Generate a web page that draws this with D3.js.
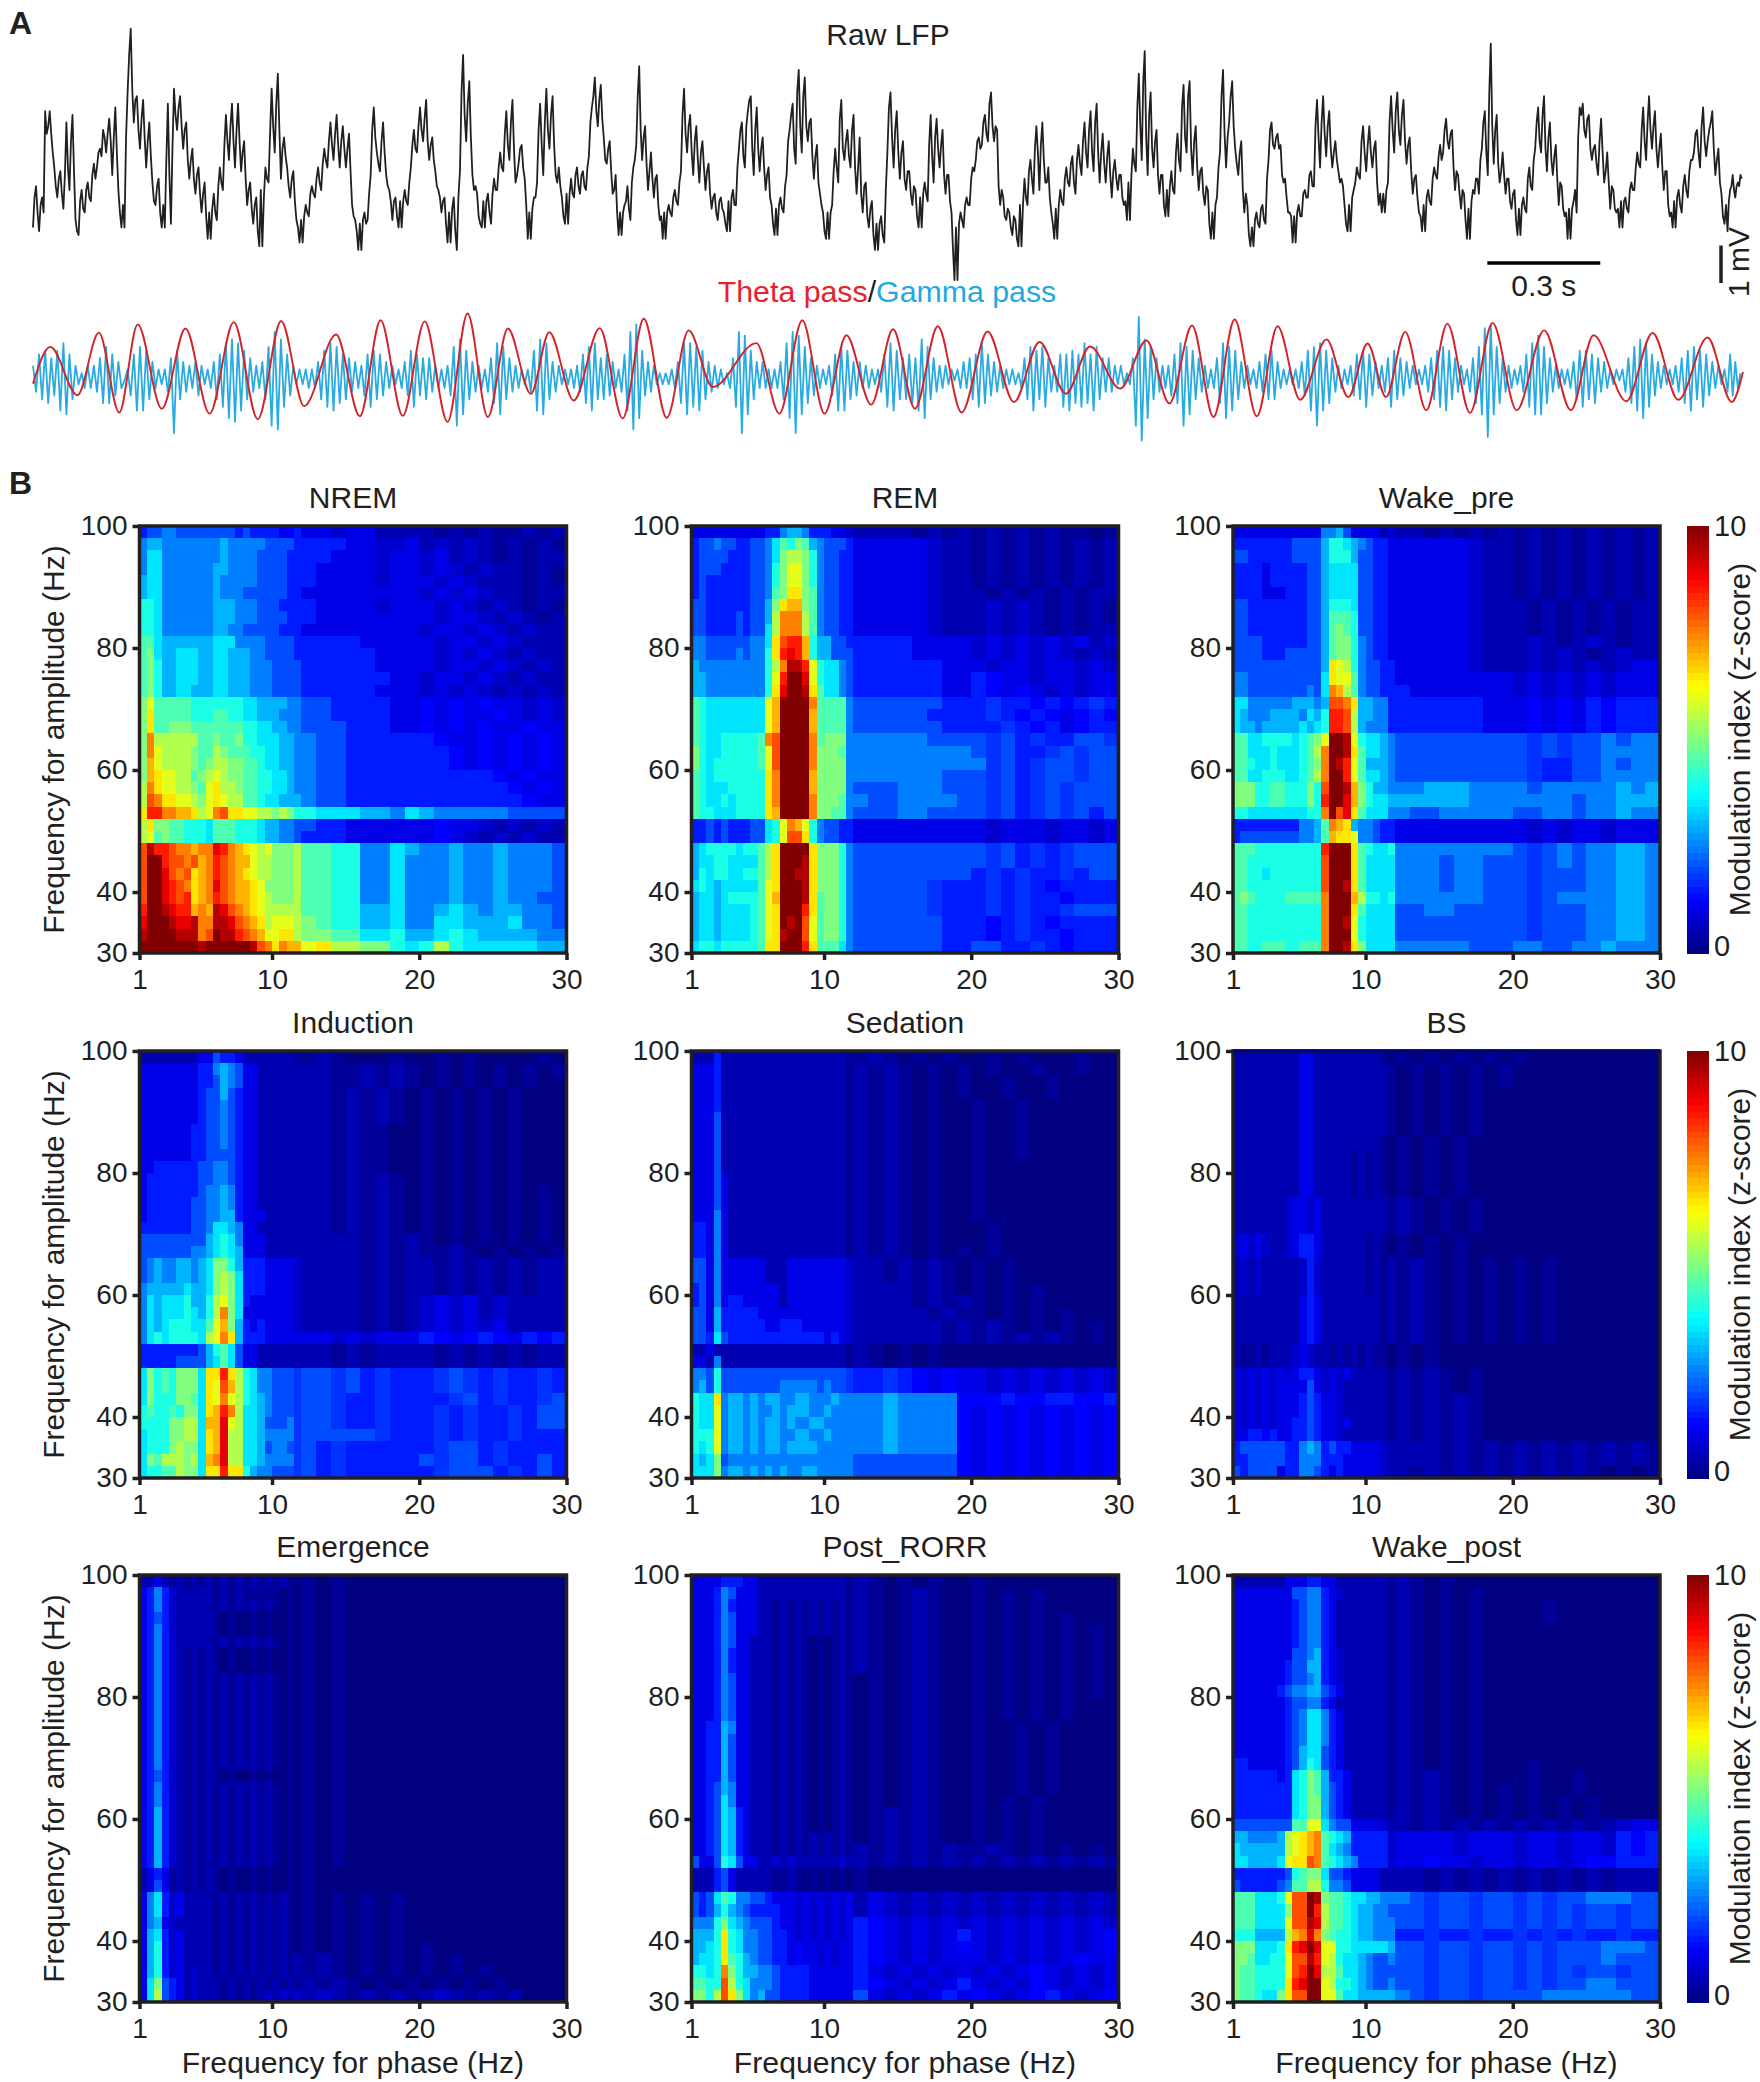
<!DOCTYPE html>
<html>
<head>
<meta charset="utf-8">
<script src="https://cdn.jsdelivr.net/npm/d3@7"></script>
<style>
  body { margin: 0; background: #fff; }
  text { font-family: "Liberation Sans", Arial, sans-serif; fill: #231f20; }
</style>
</head>
<body>
<div class="chart"></div>
<script>
// panel A: traces are split per theta cycle, start times in s
const segmentStart = [0,.121,.243,.350,.472,.609,.716,.872,.979,1.109,1.200,1.322,1.421,1.563,1.680,1.851,1.977,2.114,2.244,2.360,2.455,2.625,2.720,2.913,3.015,3.136,3.241,3.353,3.499,3.590,3.697,3.816,3.950,4.083,4.221,4.362,4.500,4.541];

// raw LFP, 0.1 mV
const lfp = [
  [-18,-7,-19,-10,13,9,7,-2,-10,-3,-13,10,-8,12,-16],
  [-20,-8,-14,-6,-11,-1,-2,3,8,2,11,-4,14,-8,-18],
  [-18,18,35,10,17,3,16,-2,10,-6,-12,-5,-18],
  [-18,15,-17,19,8,17,3,10,-5,3,-9,-2,-14,-6,-21],
  [-21,-9,-16,-2,-8,12,0,15,-2,15,-3,5,-12,-6,-17,-10,-23],
  [-23,-2,-6,19,2,23,-5,6,-2,-10,-3,-16,-22],
  [-22,-12,-15,-7,-10,-2,-8,3,-2,10,0,12,-2,9,-2,7,-12,-16,-24],
  [-24,-14,-16,-4,14,2,-3,10,-4,-8,-16,-10,-18],
  [-18,-8,-12,-2,8,2,14,5,16,0,6,-3,-8,-14,-10,-22],
  [-22,-10,-24,-3,28,5,21,-4,-7,-15,-18],
  [-18,-9,-17,-5,-8,2,-3,13,0,16,-6,-1,4,-5,-21],
  [-21,-10,-6,15,-4,19,3,17,-4,-2,-10,-17],
  [-17,-5,-10,-2,-9,-3,-8,1,14,22,9,20,6,-1,5,-9,-4,-20],
  [-20,-12,-7,-16,-2,4,25,0,9,-8,2,-10,-4,-16,-21],
  [-21,-12,-15,-8,-12,-3,19,2,12,-4,9,-6,5,-8,-1,-13,-9,-16,-10,-14,-19],
  [-19,-8,-12,3,10,-2,13,17,-4,14,-3,6,-8,-2,-12,-20],
  [-20,-10,-14,-4,8,15,-1,24,2,22,5,11,-5,4,-9,-14,-21],
  [-21,-12,3,-6,16,0,8,-2,12,-9,6,-14,-6,-18,-11,-24],
  [-24,-15,-22,2,18,-2,13,-5,5,-8,-3,-12,-8,-18],
  [-18,-6,-11,12,-6,11,-2,8,-9,-4,-14,-32],
  [-32,-14,-18,-10,-12,-2,0,6,4,12,5,18,5,8,-12,-10,-16,-14,-20,-16,-23],
  [-23,-5,-12,0,-9,9,-8,10,-6,-2,-14,-21],
  [-21,-8,-12,-2,-7,1,-9,4,-4,10,-2,13,-3,15,-6,7,-6,5,-10,0,-8,-4,-12,-16],
  [-16,3,-3,23,0,29,-4,18,-2,8,-9,-4,-15],
  [-15,-3,-9,7,-3,20,2,21,-4,9,-8,-2,-12,-8,-21],
  [-21,-10,2,24,-2,10,21,3,-4,5,-14,-12,-23],
  [-23,-14,-18,-12,-17,0,10,3,7,4,-6,-10,-14,-22],
  [-22,-12,-15,-8,-10,-3,-7,16,-2,17,1,13,-2,5,-3,-5,-12,-19],
  [-19,-8,-2,-5,9,-3,9,-2,5,-12,-14],
  [-14,-6,17,2,18,4,16,-1,6,-9,-4,-14,-19],
  [-19,-8,-12,-2,-5,4,2,11,3,8,-8,-4,-13,-9,-21],
  [-21,-8,-5,-9,3,13,-4,31,-1,12,-6,2,-9,-5,-13,-8,-20],
  [-20,-10,-14,-2,-8,3,14,2,17,-3,10,-4,4,-12,-7,-15,-21],
  [-21,-11,-14,14,15,6,12,0,4,-4,11,-6,2,-13,-8,-14,-18],
  [-18,-10,-14,-6,-8,2,-2,14,0,17,3,13,-2,7,-8,-3,-15,-18],
  [-18,-8,-14,-4,-10,0,2,8,-2,14,1,8,13,-4,3,-9,-17],
  [-19,-8,-4,-10,-6,-4]
];

// raw LFP, the samples that fall between those above
const lfpBetween = [
  [-10,-14,-12,-14,7,13,2,-7,-5,-9,-4,-2,5,-3,-19],
  [-11,-13,-8,-10,-4,-5,2,1,6,7,5,6,2,-14,-12],
  [6,28,19,16,8,11,6,5,1,-11,-7,-14,-12],
  [0,-4,3,12,14,9,8,0,0,-5,-4,-9,-9,-15,-14],
  [-13,-14,-7,-6,4,5,9,5,8,5,2,-5,-8,-13,-12,-19,-8],
  [-10,-5,7,9,15,8,3,1,-7,-5,-11,-18,-16],
  [-15,-14,-9,-9,-5,-6,-1,0,5,4,7,4,5,3,3,-3,-15,-19,-17],
  [-16,-17,-9,8,6,-1,5,2,-7,-11,-11,-15,-11],
  [-11,-11,-6,4,3,9,8,11,5,4,0,-7,-10,-11,-17,-14],
  [-13,-19,-10,18,12,15,6,-8,-9,-17,-11],
  [-11,-14,-9,-8,-2,-2,7,4,10,3,-4,3,-2,-12,-14],
  [-13,-10,8,4,10,8,12,4,-6,-7,-15,-9],
  [-9,-9,-4,-7,-4,-7,-2,10,17,13,16,11,0,3,-3,-8,-14,-14],
  [-14,-11,-13,-6,0,17,8,6,-1,-3,-5,-5,-12,-15,-14],
  [-14,-14,-10,-11,-6,12,7,9,2,5,0,2,-2,-3,-9,-10,-14,-11,-13,-17,-11],
  [-10,-12,-2,8,1,9,16,3,8,3,3,-2,-4,-10,-17,-13],
  [-12,-13,-7,5,12,3,18,9,17,9,10,1,1,-6,-12,-19,-14],
  [-14,-3,-2,11,3,5,1,8,-2,-2,-9,-7,-15,-13,-20,-17],
  [-17,-20,-8,14,6,8,2,2,-5,-3,-9,-7,-15,-10],
  [-9,-9,4,1,6,3,4,-4,-4,-11,-24,-18],
  [-17,-16,-12,-12,-5,-3,5,3,10,7,15,9,9,-7,-8,-15,-13,-18,-15,-21,-12],
  [-12,-10,-3,-5,3,2,4,0,-6,-10,-17,-13],
  [-12,-11,-5,-6,-1,-6,0,-1,5,2,8,2,10,2,2,-1,1,-4,-3,-5,-4,-10,-11,-6],
  [-4,-1,14,9,21,6,12,3,5,-4,-4,-12,-8],
  [-7,-8,2,0,14,6,17,3,5,-2,-3,-9,-7,-17,-14],
  [-12,-2,17,7,6,17,9,-1,2,-8,-9,-20,-18],
  [-16,-17,-13,-16,-5,8,4,6,3,-4,-5,-14,-15,-15],
  [-14,-15,-9,-10,-4,-7,9,6,10,7,9,3,2,0,-6,-7,-17,-12],
  [-10,-6,-4,5,2,4,2,3,-6,-9,-9],
  [-8,10,8,13,8,12,5,4,-3,-5,-10,-15,-12],
  [-10,-11,-5,-4,1,0,8,5,7,-2,-3,-9,-8,-16,-13],
  [-11,-9,-5,0,10,2,18,9,8,-1,-3,-4,-5,-11,-9,-16,-13],
  [-12,-13,-5,-7,0,10,5,12,3,6,0,1,-5,-6,-13,-14,-13],
  [-13,-8,6,12,8,11,3,3,-1,5,2,-3,-6,-7,-13,-13,-11],
  [-11,-13,-8,-8,-2,-1,8,5,10,8,9,3,3,-2,-3,-12,-14,-11],
  [-10,-12,-7,-8,-3,0,7,2,9,5,5,10,3,0,-6,-15,-12],
  [-11,-7,-8,-7,-7,-5]
];

// gamma band, 0.1 mV
const gamma = [
  [3,-4,6,-6,7,-7,5,-5,7,-9,9,-10,6,-6,3],
  [-2,1,-3,3,-3,3,-4,5,-7,8,-7,6,-5,4,-3],
  [-1,2,-5,6,-9,8,-9,7,-6,4,-3,2,-2],
  [2,-4,5,-15,7,-6,4,-4,3,-3,4,-5,3,-2,2],
  [-3,4,-6,6,-8,9,-11,10,-12,9,-9,7,-6,5,-4,3,-3],
  [4,-6,8,-13,12,-14,10,-8,6,-5,3,-2,2],
  [-2,2,-3,2,-3,4,-6,7,-8,9,-9,8,-7,6,-6,5,-4,4,-3],
  [3,-5,6,-8,7,-6,6,-5,4,-3,3,-2,2],
  [-3,4,-5,7,-8,6,-5,5,-6,5,-4,3,-3,2,-3,3],
  [-5,8,-13,10,-10,7,-6,4,-4,3,-3],
  [2,-4,5,-7,9,-10,8,-6,5,-4,3,-3,2,-2,2],
  [-4,7,-9,10,-10,9,-6,4,-4,3,-2,2],
  [-2,2,-3,3,-4,6,-7,8,-9,9,-6,5,-6,6,-5,4,-3,2],
  [-4,6,-9,12,-14,14,-11,7,-5,4,-4,3,-2,1,-2],
  [1,-2,2,-3,4,-7,9,-10,9,-8,8,-9,7,-6,4,-4,3,-3,2,-2,1],
  [-3,5,-8,12,-15,11,-10,7,-6,4,-3,4,-3,2,-3,2],
  [-3,4,-6,9,-11,12,-15,11,-10,8,-7,5,-5,3,-3,2,-2],
  [3,-5,6,-9,8,-9,7,-6,4,-5,4,-3,3,-3,2,-2],
  [2,-4,6,-8,9,-9,7,-6,5,-6,6,-7,5,-9],
  [10,-11,8,-6,5,-4,3,-3,3,-2,2,-1],
  [2,-3,4,-3,5,-6,6,-8,9,-7,6,-5,4,-4,3,-3,2,-2,2,-2,1],
  [-3,5,-6,8,-9,7,-6,8,-8,5,-4,3],
  [-4,6,-8,6,-9,7,-7,6,-8,9,-7,6,-9,8,-6,5,-4,5,-4,3,-2,3,-2,1],
  [-2,5,-13,16,-17,10,-11,8,-6,5,-4,3,-3],
  [3,-5,6,-7,9,-13,8,-10,7,-6,5,-4,3,-3,2],
  [-3,5,-7,9,-11,8,-9,7,-6,4,-3,3,-2],
  [2,-3,4,-4,6,-6,7,-6,4,-3,2,-2,2,-2],
  [2,-3,4,-5,7,-9,8,-13,9,-9,7,-7,5,-4,3,-3,2,-2],
  [3,-5,6,-6,7,-8,6,-5,4,-3,3],
  [-4,5,-8,7,-6,5,-5,4,-3,3,-2,2,-2],
  [3,-4,5,-6,7,-8,8,-9,7,-6,5,-4,3,-2,2],
  [-4,5,-7,8,-10,13,-16,14,-10,8,-7,5,-4,3,-3,2,-2],
  [3,-4,6,-8,9,-10,11,-10,8,-7,5,-4,3,-3,2,-2,2],
  [-3,4,-6,7,-8,7,-6,6,-7,5,-4,4,-3,2,-2,2,-1],
  [2,-4,5,-7,8,-9,10,-11,9,-8,6,-5,4,-3,3,-2,2,-2],
  [3,-4,5,-7,7,-9,8,-6,7,-8,6,-5,4,-3,3,-2,2],
  [-4,6,-5,4,-3,1]
];

// theta band, turning points only: time (s), mV
const thetaTime = [0,.046,.118,.175,.229,.278,.342,.405,.469,.533,.597,.659,.720,.805,.868,.923,.982,1.040,1.101,1.154,1.208,1.261,1.322,1.371,1.436,1.505,1.566,1.622,1.683,1.741,1.805,1.921,1.982,2.043,2.102,2.160,2.226,2.284,2.342,2.403,2.466,2.535,2.605,2.673,2.743,2.807,2.887,2.957,3.018,3.078,3.135,3.191,3.250,3.305,3.365,3.435,3.493,3.544,3.593,3.644,3.700,3.756,3.816,3.876,3.940,4.013,4.084,4.144,4.231,4.301,4.369,4.447,4.511,4.541];
const thetaMv = [-.31,.67,-.62,1.05,-1.08,1.27,-.98,1.16,-1.11,1.33,-1.26,1.36,-.91,1.0,-1.18,1.38,-1.17,1.35,-1.33,1.56,-1.2,1.16,-.58,1.06,-.76,1.17,-1.24,1.42,-1.22,1.11,-.4,.77,-1.11,1.38,-1.11,.98,-.87,1.14,-.98,1.22,-1.08,1.08,-.8,.8,-.58,.68,-.44,.84,-.84,1.24,-1.2,1.4,-1.18,1.22,-.74,.87,-.67,.76,-.67,1.07,-1.02,1.29,-1.09,1.31,-1.02,1.11,-1.02,.98,-.78,1.04,-.74,.92,-.8,0];

const scaleBarSeconds = 0.3;
const scaleBarMv = 1;

// panel B: one string per amplitude row, 100 Hz at the top, groups of ten cells.
// one character per cell: 0-9a-k are half z-score steps (k = 10), l m n o are the quarters .25 .75 1.25 1.75
const nrem = [
"3445544444 4443433332 n322m22111 1l1l1ll1l1",
"5665555555 5655555444 4333322mm2 1m1m1l1l1l",
"5775555555 5655554444 3333222m22 m21m1l1l11",
"5775555555 6655554444 3332222m22 m2m1m11l1l",
"6775555555 6555554444 3332222m22 2m2m111l1l",
"6775555555 6555444444 3322222222 m2m2m11l11",
"8875555555 6665554443 3332222m22 2m2m1m1l1l",
"8875555555 6665554444 3332222222 2m22m1m1l1",
"8875555555 6655444443 3322222222 m22m2m1m11",
"9976666666 7775555444 4333332222 2m22m2m111",
"9a76677766 7766655444 4333333222 2m2m2m1m11",
"9a86677766 7766655544 4433333222 2m22m2m1m1",
"9a86677766 7766655544 4433333322 m22m2m1m11",
"9a86677666 7766655544 4433333222 m2m2m1m1m1",
"ac99999888 8888776666 5544333322 n2n2n22m2m",
"ad99999888 9988776665 5544333322 n2n22n2m2m",
"ad99aaa999 9999887766 5544433322 n2n2n22n22",
"afbbbbbb99 a99a887776 6554433333 3n22n2n2n2",
"afcbbbba99 ba99988776 6554433333 33n2n2n2n2",
"aecbbbba9a bbaa998776 6554433333 33n2n2n2n2",
"aedccbb9ab cbaa998877 6554433333 33333n2n22",
"bfdccbba9c dbba998877 6554433333 333333n2n2",
"bgfddccbac dcbb998776 6654433333 3333333n22",
"dhhffeedbc fgddccbbab a887776657 6555554444",
"bdaa998887 9998887665 5443322222 2n22m1m1m1",
"bc9a998887 9998887665 5433322222 2n2m1m1m11",
"gjhhgffeff ihfedcbcaa ab99885576 5565565554",
"gkkhggfgef hgfeecbbaa ab99885575 5565565554",
"gkkigfgdef hgfedcbbaa ab99885575 5565565554",
"gkkihgfdef igfeedcaaa ab99885575 5565565554",
"gkkihghdef hgfeedcbaa ab99885575 5565565544",
"hkkjihhefe jigfedcbbb bb99886675 5676566554",
"ikkkjiijff jjigfedbcc cba9886675 5776667554",
"jkkkkjjjfg kjjhgfeccd dbaa997786 6787666655",
"kkkkkkkkjk kkkkkjgfdf eecdbbaa87 8b87777766"
];
const rem = [
"2222222222 3356653332 2m1111l1l1 l1l1l1ll0l",
"3445443344 5798a96544 4322222m11 l1l1l1l1l1",
"3444433344 57abba8544 3322222m11 l1l1l1l1l1",
"3444333344 58acca8544 3322222m11 l1l1l1l1l1",
"3433333344 58acca8544 3322222m11 l1l1l1l1l1",
"3433333344 59adda9544 3322222m11 1l1l1l1l11",
"4433333344 6adeea9544 3322222m11 1m1m1l1l1l",
"4433334344 6bfffb9544 3322222m11 1m1m1l1l1l",
"4433334344 7bfffb9544 3322222m11 1m1m1l1l11",
"5544444455 7dghhe8664 4333332222 m2m2m2m21m",
"5544445455 8dhihe8664 4433332222 m2m2m2m1m1",
"6555555555 8bfjjhc877 5433333322 2m22m22m2m",
"6655555555 8chkkic877 5433333322 3n22m22m22",
"6655555555 8dikkjd977 5433333322 3n2n2m2m22",
"9877777777 cekkkkf999 9544444433 3o33n3n3o3",
"9877777777 cekkkke999 9544444333 3o3n3n2n3n",
"9877777777 cekkkke999 9544444433 33o3n32n33",
"9877888889 fgkkkkf9aa a555555444 4o43o3344o",
"a877888889 cgkkkkfaaa 9555555555 4o433o4o44",
"a878888889 cgkkkkfaaa a555555555 5o43o44o44",
"9878888888 dfkkkkeaaa a555555544 4o43o44o44",
"9877788888 dfkkkkeaaa a544455544 4o43o4o444",
"9877878888 dfkkkkfaaa 9554455554 4o43o4o444",
"9887778888 dekkkkfaa9 9544455444 4o43o4o434",
"3343433344 78cfec8544 3322222222 2m222m22m2",
"3343433344 78cggd8544 3322222222 2m222m22m2",
"6788887889 bdkkkkdaaa 8544444444 4o43o3o444",
"6778877779 bdkkkjdaaa 8544444444 4o43o3o444",
"6878877889 bdkkjjdaaa 8544444444 3o3o33o344",
"7876777779 cdkkkjdaaa 8544444o33 3o3o3n3333",
"6776788889 cekkkjd9aa 8544444o33 3o3o33n333",
"6776777789 cdkkkhd9aa 8544444o33 3o3o33o444",
"6776777789 cdkjkgc9aa 8544444433 3n3o3n3333",
"6776777789 cdjkkgc9aa 8544444433 3n3o33n333",
"7887888889 ddkkkhd999 7544444433 4433o3n333"
];
const wakePre = [
"2222222222 2255642222 1m11l1l1l1 l1l1l1l1l1",
"3333333344 4468876543 3222222m11 l1l1l1l1l1",
"4433333344 4468886443 3222222m11 l1l1l1l1l1",
"3333233333 4467777443 3222222m11 l1l1l1l1l1",
"3333233333 4467777443 3222222m11 l1l1l1l1l1",
"3333222333 4467777443 3222222m11 l1l1l1l1l1",
"4433333333 4468887443 3222222m11 1l1l1l1l11",
"4433333333 4469998443 3222222m11 1l1l1l1l11",
"4433333333 4469a98443 3222222m11 1l1l1l1l11",
"4444333333 4469aa8543 3222222m11 1m1l1m1l11",
"4444333444 4469aa8543 3222222m11 1m1m1l1m11",
"4444444444 446dcb8544 3322222m11 1m1m1m1m22",
"5544444444 447dcc9544 3322222222 m2m2m2m222",
"5544444444 547feb9544 3332222222 m2m2m2m222",
"7755555566 656ggfd665 5333333322 2n2n23n333",
"7655566665 768hhgb665 5333333322 2n2n23n333",
"7665666667 678hhgb655 5333333322 2n2n23n333",
"9977888878 9ackkjc877 6544444444 4o4o445455",
"9977787778 9bfkkjd977 6544444444 4o4o445555",
"9987787778 9afkjhc966 6544444444 4o33445455",
"9977888778 9bfkkhc977 6544444444 4o33445555",
"aaa8899888 a8gkkjea86 6555666555 5455555656",
"aaa8899888 a8hkkiea87 7666666555 5555455666",
"8877777777 88fkgid977 7554455555 4455455655",
"3333333335 569fed6554 3322222222 2m2m22m222",
"3444444445 569eddc554 3322222222 2m2m22m222",
"9998888888 88hkkkd987 7855555555 4o45455665",
"9988888888 88gkkkd977 7755545544 4o45455665",
"9988788888 88gkkkd977 7755545544 4o44455665",
"9988888888 88gkkjd977 7755545544 4o44455665",
"9a98888999 99fkkkeb88 7855555544 4o45555665",
"9988888888 88fkkkd977 7744554444 4o44455665",
"9988888888 88fkkjc877 7744444444 4o44455665",
"9988888888 88fkkkc877 7744444444 4o44455665",
"9988999889 99fkkjda77 7755555444 5544556555"
];
const induction = [
"1111111122 4332111111 1ll1l000l0 0l0l0000l0",
"2222222233 5654221111 1111ll1l1l 0l0l0l0l0l",
"2222222233 4654221111 1111ll1l1l 0l0l0l0l00",
"2222222234 4643221111 1111l1l1l0 l0l0l0l000",
"2222222234 4543221111 1111l1l1l0 l0l0l0l000",
"2222222234 4543221111 1111l1l1l0 l0l0l0l000",
"2222222334 4543221111 1111l1ll00 l0l0l0l000",
"2222222334 4543221111 1111l1ll00 l0l0l0l000",
"2222222334 4443221111 1111l1ll00 l0l0l0l000",
"2233333344 5543221111 1111l1ll00 l0l0l0l000",
"2333333344 5543221111 1111l1l1l0 l0l0l0l000",
"2333333345 5653221111 1111l1l1l0 l0l0l0l0l0",
"2333333445 5653221111 1111l1l1l0 l0l0l0l0l0",
"2333333445 5663222111 1111l1l1l0 l0l0l0l0l0",
"3333333445 7765221111 1111l1l1l0 l0l0l0l0l0",
"4444444446 7875222111 111111l1l1 l0l0l0l0l0",
"4444444556 7876222111 111111l1l1 ll1l0l0l0l",
"4565566567 aa86333222 2m1111l1l1 1l1l1l1l11",
"4565566567 aba7333222 2m1111l1l1 1l1l1l1l11",
"5666667667 aba7333222 2m1111l1l1 1l1l1l1l11",
"5767778668 bca7322222 2m1111l1l1 m2m21m1111",
"5767778768 bfa7222222 2m1111l1l1 m2m21m1111",
"5767888779 cea6323222 2m1111l1l1 m2m2m21111",
"578788887b cfd6333222 2222m2m222 3n2n3n23n3",
"3333333346 8974221111 1111l1l111 1l1l1l1l11",
"3333344446 7974221111 1111l1l111 1l1l1l1l11",
"7a898aaa7d dhdb875544 4o44o43o33 3o4o3o33o3",
"7a898aaa7d cgeb875544 4o44o43o33 3o4o3o33o3",
"7a888aa97d cfcb876544 4o44o33o33 33o43o33o4",
"898898aa7d ehfb776544 4o44o33o33 3o3o33o344",
"8888aabb7e eicb776444 5o44o33o33 3o3o33o344",
"7888aabb7d eibb776555 5o44444o33 3o3o33o333",
"7888abaa7d eibb776455 4o43o33333 3o443o3333",
"7a9bbbab7e fibb776555 5o43o33333 4o443o3343",
"78899baa7d dhdd865544 4o43o33333 3o4443o343"
];
const sedation = [
"1113111111 1111111111 1ll1l0l0l0 0l0l000l00",
"2223111111 1111111111 1l1l1l0l0l 0l00l00l00",
"2223111111 1111111111 1l1l1l0l0l 00l00l0000",
"2223111111 1111111111 1l1l1l0l0l 00l00l0000",
"2223111111 1111111111 1l1l1l0l00 l00l000000",
"2224111111 1111111111 1l1l1l0l00 l00l000000",
"2224111111 1111111111 1l1l1l0l00 l00l000000",
"2224111111 1111111111 1l1l1l0l00 l00l000000",
"2224111111 1111111111 1l1l1l0l00 l00l000000",
"2224111111 1111111111 1l1l1l0l00 l000000000",
"2224211111 1111111111 1l1l1l0l00 l000000000",
"2224211111 1111111111 1l1l1l0l00 l000000000",
"2224211111 1111111111 1l1l1l0l00 l000000000",
"2225211111 1111111111 1l1l1l0l00 l000000000",
"3325211111 1111111111 1l1l1l0l00 0l00000000",
"3325211111 1111111111 1l1l1l0l00 0l00000000",
"3325211111 1111111111 1l1l1l0l0l 0l00000000",
"4425222222 1112222222 2m11l1l1l0 l0l0000000",
"4425222222 1112222222 2m11l1l1l0 l0l0000000",
"3425222222 2212222222 2m1111l1l0 l0l0l00000",
"3425233222 2212222222 2m1111l1l1 l0l0l00000",
"4426333332 2222222222 2m11111l1l l0l0l0l000",
"4426333333 2233322222 2m111111l1 l1l0l0l0l0",
"4437433333 3333333323 2m111111l1 l1l1l1l0l0",
"1121111111 1111111111 1l1l0l0l00 0000000000",
"2215111111 1111111111 1l1l0l0l00 0000000000",
"5548444444 4444444444 4o33o3n2n2 2m2m2m2m2m",
"5648444444 4455555454 4o33o3n2n2 2m2m2m2m2m",
"877d566565 6655665556 555565555n nn3nn33nn3",
"877c566565 5656665565 555565555n 2n2n2n2n2n",
"877c566565 6656556655 555565555n 2n2n2n2n2n",
"888c566565 6655665565 555565555n 2n2n2n2n2n",
"878c566565 6656666555 555565555n 2n2n2n2n2n",
"767a455555 5555555555 554444444n 2n2n2n2n2n",
"777a566565 6565566555 554444444n 2n2n2n2n2n"
];
const bs = [
"1111111112 2111111111 l0l0l0l0l0 l000000000",
"1111111112 2111111111 1l0l0l0l0l 0000000000",
"1111111112 2111111111 1l0l0l0l0l 0000000000",
"1111111112 2111111111 1l0l0l0l00 0000000000",
"1111111112 2111111111 1l0l0l0l00 0000000000",
"1111111112 2111111111 1l0l0l0l00 0000000000",
"1111111112 2111111111 1l0l0l0l00 0000000000",
"1111111112 2111111111 l0l0l0l000 0000000000",
"1111111112 211111l1l1 l0l0l0l000 0000000000",
"1111111112 211111l1l1 l0l0l0l000 0000000000",
"1111111112 211111l1l1 l0l0l0l000 0000000000",
"1111111112 211111l1l1 l0l0l0l000 0000000000",
"1111111m22 m211111111 1l1l0l0l00 0000000000",
"1111111m22 m211111111 1l1l0l0l00 0000000000",
"1111111m22 m211111111 1l1l0l0l00 0000000000",
"m2m2m11m23 32111111l1 l0l0l0l000 0000000000",
"m2m2m11m23 32111111l1 l0l0l0l000 0000000000",
"1m1m11111m 3m111111l1 l1l1l0l0l0 l0l0000000",
"1m1m11111m 3m111111l1 l1l1l0l0l0 l0l0000000",
"1m1m11111m 3m111111l1 l1l1l0l0l0 l0l0000000",
"1111111112 3211111111 l1l1l0l0l0 l0l0000000",
"1111111112 3211111111 l1l1l0l0l0 l0l0000000",
"1111111112 3211111111 l1l1l0l0l0 l0l0000000",
"1111111112 3211111111 l1l1l0l0l0 l0l0000000",
"1ll1l111m2 m11l1l1l1l l0l0l00000 0000000000",
"1ll1l111m2 m11l1l1l1l l0l0l00000 0000000000",
"2m2m2m2m23 32m2m21111 1l1l1l0l00 0000000000",
"2m2m2m2222 42m2m11111 1l1l1l0l00 0000000000",
"2m2m2m2223 4322m11111 1l1l1l1l00 0000000000",
"2m2m2m2223 4322m11111 1l1l1l1l00 0000000000",
"2m2m2m2233 4322m21111 1l1l1l1l00 0000000000",
"2233n32233 4322m11111 1l1l1l1l00 0000000000",
"3444444335 6534332222 m1111l1l1l 1l1l1l1l1l",
"3344444335 5533322222 m1111l1l1l 1l1l1l1l1l",
"4344442335 5432322222 m11l1l1l1l 1l1l1l0l0l"
];
const emergence = [
"1121l1l1l1 l1l1l1l1l1 l0l0l00000 0000000000",
"2353m11111 l1l1lllll0 l0l0l00000 0000000000",
"2353m11111 l1l1l1l1l0 l0l0l00000 0000000000",
"2343m11111 l0l00l0l00 l0l0l00000 0000000000",
"2353m11111 l0l00l0l00 l0l0l00000 0000000000",
"2353m11111 l1l1l1l1l0 l0l0l00000 0000000000",
"2353m1l1l1 l0l00l0l00 l0l0l00000 0000000000",
"2353m1l1l1 l0l00l0l00 l0l0l00000 0000000000",
"2353m1l1l1 l1l1l1l1l0 l0l0l00000 0000000000",
"2353m1l1l1 l1l1l1l1l0 l0l0l00000 0000000000",
"2353m1l1l1 l1l1l1l1l0 l0l0l00000 0000000000",
"2353m1l1l1 l1l1l1l1l0 l0l0l00000 0000000000",
"2353m1l1l1 l1l1l1l1l0 l0l0l00000 0000000000",
"2353m1l1l1 l1l1l1l1l0 l0l0l00000 0000000000",
"2353m1l1l1 l1l1l1l1l0 l0l0l00000 0000000000",
"2353m1l1l1 l1l1l1l1l0 l0l0l00000 0000000000",
"2343m1l1l1 l0l00l0l00 l0l0l00000 0000000000",
"2353m1l1l1 l1l1l1l1l0 l0l0l00000 0000000000",
"2353m1l1l1 l1l1l1l1l0 l0l0l00000 0000000000",
"2363m1l1l1 l1l1l1l1l0 l0l0l00000 0000000000",
"2363m1l1l1 l1l1l1l1l0 l0l0l00000 0000000000",
"2363m1l1l1 l1l1l1l1l0 l0l0l00000 0000000000",
"2363m1l1l1 l1l1l1l1l0 l0l0l00000 0000000000",
"2363m1l1l1 l1l1l1l1l0 l0l0l00000 0000000000",
"1232l1l1l1 l0l00l0l00 l0l0000000 0000000000",
"1242l1l1l1 l0l00l0l00 l0l0000000 0000000000",
"2573m21111 l1l1l1l1l1 l0l0l0l0l0 0000000000",
"2573m21111 l1l1l1l1l1 l0l0l0l0l0 0000000000",
"2562m11111 l1l1l1l1l1 l0l0l0l0l0 0000000000",
"2673m21111 l1l1l1l1l1 l0l0l0l0l0 0000000000",
"2683m21111 l1l1l1l1l1 l0l0l0l0l0 l000000000",
"2683m21111 l1l1l1l1l1 l1l1l0l0l0 l0l0000000",
"2683m21m11 l1l1l1l1l1 l1l1l0l0l0 l0l0l00000",
"27a4321m11 1l1l1l1l1l 1l1l1l0l0l 0l0l0l0000",
"27b4321m11 1l1l1l1m1m 1m1m1l1l1l 1m1l1l1000"
];
const postRorr = [
"2222333221 1111111111 1l1l0l0l00 l000000000",
"2223542221 1111111111 1l1l0l1l00 l0l0l00000",
"2223532221 1l1l1l1l1l 1l1l0l1l00 l0l0l00000",
"2223542221 1l1l1l1l1l 1l1l0l1l00 l0l0l0l000",
"2223542221 1l1l1l1l1l 1l1l0l1l00 l0l0l0l0l0",
"2223542211 1l1l1l0l0l 1l1l0l1l00 l0l0l0l0l0",
"2223532211 1l1l1l0l0l 1l1l0l1l00 l0l0l0l0l0",
"2223532211 1l1l1l0l0l 1l1l0l1l00 l0l0l0l0l0",
"2223542211 1l1l1l0l0l 1l0l0l1l00 l0l0l0l0l0",
"2223542211 1l1l1l0l0l 1l0l0l1l00 l0l0l0l0l0",
"2223542211 1l1l1l0l0l 1l0l0l1l00 l0l0l0l000",
"2223542211 1l1l1l0l0l 1l0l0l1l00 l0l0l0l000",
"2233652211 1l1l1l0l0l 1l0l0l1l00 l00l0l0000",
"2233642211 1l1l1l0l0l 1l0l0l1l00 l00l0l0000",
"2233642211 1l1l1l0l0l 1l0l0l1l00 l00l0l0000",
"2233642211 1l1l1l0l0l 1l0l0l1l00 l00l0l0000",
"2233642211 1l1l1l0l0l 1l0l0l1l00 l00l0l0000",
"2234652211 1l1l1l0l0l 1l0l0l1l00 l00l0l0000",
"2234752211 1l1l1l0l0l 1l0l0l1l00 l0l0l00000",
"2234763211 1l1l1l0l0l 1l0l1l1l00 l0l0l00000",
"2234763211 1l1l1l0l0l 1l0l1l1l00 l0l0l00000",
"2234763211 1l1l1l1l1l 1l0l1l1l00 l0l0l00000",
"2234763211 1l1l1l1l1l 1l1l1l1l1l l1l0l0l0l0",
"4224874221 1m1m111111 m11l1l1l1l 1l1l1l1l1l",
"1113421111 1ll1l0l0l0 l0l0000000 0000000000",
"1113421111 1ll1l0l0l0 l0l0000000 0000000000",
"4347985544 3222m2m2m2 m212m1m1m1 m1m1m1m1m1",
"4346865433 3322m2m2m2 m212m1m1m1 m1m1m1m1m1",
"5558a76544 4322m2m2m2 m23n2m2m2m 2m2m2m2m2m",
"6668d87554 4332m2m2m2 m23n2m2m23 2m2m2m2m2n",
"6678d87554 4332n22m2m 223n2m2m2n 2m2m2m2m2n",
"6778d98654 4332n22m2m 223n2m2m22 2m2m2m2n22",
"8878fa8665 5433332222 2232m2m2m2 m2m2n2m2m2",
"9988gb8755 5433332222 223n2m2m23 2m2mn2m2m2",
"aa8bgda756 4433332222 2242m2m232 n2m2n32m2n"
];
const wakePost = [
"1111111222 3322111111 1l1l0l0000 0000000000",
"2222222244 5532m11111 1l1l0l0l00 0000000000",
"2222222234 5532111111 1l1l0l0l00 00l0000000",
"2222222234 5532111111 1l1l0l0l00 00l0000000",
"2222222234 5532111111 1l1l0l0l00 0000000000",
"2222222234 5532111111 1l1l0l0l00 0000000000",
"2222222244 5632m11111 1l1l0l0l00 0000000000",
"2222222344 6632m11111 1l1l0l0l00 0000000000",
"2222222344 5632m11111 1l1l0l0l00 0000000000",
"2222223455 6643211111 1l1l0l0l00 0000000000",
"2222222344 5532111111 1l1l0l0l00 0000000000",
"2222222345 7753211111 1l1l0l0l00 0000000000",
"2222222345 7753211111 1l1l0l0l00 0000000000",
"2222222345 7753211111 1l1l0l0l00 0000000000",
"2222222346 7743211111 1l1l0l0l00 0000000000",
"3322222346 8743211111 1l1l0l0l00 0l00000000",
"3333332378 a963321111 1l1l1l0l00 0l00l00000",
"3333333378 a964321111 1l1l1l0l0l 0l00l00000",
"3333333378 aa64321111 1l1l1l0l0l 0l0l0l0000",
"3333333378 aa64321111 1l1l1l0l0l 0l0l0l0000",
"4444444499 cc75442222 m11l1l1l1l 1l1l1l1m22",
"6655556bcd ef98763333 3m2222m222 m22m22m3n3",
"7666666bcd ef97653333 3m2222m222 m22m22m3n3",
"7766667cdd gf98765333 3m22n22m22 m22m2nn333",
"3333333489 aa74432222 1111l1l1l1 l1l1l1l111",
"4333334599 bb85542222 1111l1l1l1 l1l1l1l111",
"9997778cgg kja9987766 5554o44o44 o4o4455544",
"9997777agg khb9987665 5444o44o44 o4o4o44o44",
"9997777cgg jib9987665 5544o44o44 o4o4o44o44",
"8886666bef ifa9887665 5533o33o33 o3o3o33o33",
"aaa7778dhi kicc887777 7644o44o44 o4o4445554",
"aa97788cgg jhcb877654 4544o44o44 o4o4445444",
"a998888cgh kibb977654 4444o44o44 o4o4o44o44",
"a998888dhi kkcb887654 4544o44o44 o4o4455444",
"a99877adgg kkcc977666 6654o44o44 4455555544"
];

const panels = [
  {title: "NREM", rows: nrem}, {title: "REM", rows: rem}, {title: "Wake_pre", rows: wakePre},
  {title: "Induction", rows: induction}, {title: "Sedation", rows: sedation}, {title: "BS", rows: bs},
  {title: "Emergence", rows: emergence}, {title: "Post_RORR", rows: postRorr}, {title: "Wake_post", rows: wakePost}
];

const phaseTicks = [1, 10, 20, 30];
const ampTicks = [30, 40, 60, 80, 100];
// cell edges: half Hz up to 12 Hz, then 1 Hz
const phaseEdges = d3.range(1, 12, 0.5).concat(d3.range(12, 31));
const ampEdges = d3.range(100, 28, -2);
const quarters = {l: 0.25, m: 0.75, n: 1.25, o: 1.75};

const ink = "#231f20";
const svg = d3.select(".chart").append("svg")
    .attr("width", 1760)
    .attr("height", 2082);

// ---------- panel A
const tScale = d3.scaleLinear().domain([0, 4.541]).range([33, 1743]);
const lfpY = d3.scaleLinear().domain([-4, 4]).range([310, 10]);
const bandY = d3.scaleLinear().domain([-2, 2]).range([447, 297]);

function flatten(rows) {
  return rows.flatMap((vals, i) => vals.map((v, j) => ({
    t: segmentStart[i] + (segmentStart[i + 1] - segmentStart[i]) * j / vals.length,
    mv: v / 10
  })));
}

// put each between-sample after its neighbour
const lfpFull = lfp.map((vals, i) =>
  vals.flatMap((v, j) => [v, lfpBetween[i][j]]).filter(v => v !== undefined));

const traceLine = d3.line().x(d => tScale(d.t));

svg.append("path")
    .attr("fill", "none").attr("stroke", ink).attr("stroke-width", 1.8).attr("stroke-linejoin", "round")
    .attr("d", traceLine.y(d => lfpY(d.mv))(flatten(lfpFull)));

svg.append("path")
    .attr("fill", "none").attr("stroke", "#29abe2").attr("stroke-width", 1.8).attr("stroke-linejoin", "round")
    .attr("d", traceLine.y(d => bandY(d.mv - 0.13))(flatten(gamma)));

const thetaLine = d3.line()
    .curve(d3.curveMonotoneX)
    .x((d, i) => tScale(thetaTime[i]))
    .y(d => bandY(d));

svg.append("path")
    .attr("fill", "none").attr("stroke", "#d2232a").attr("stroke-width", 1.9)
    .attr("d", thetaLine(thetaMv));

// scale bars
const barT0 = 3.862;
svg.append("line")
    .attr("x1", tScale(barT0)).attr("x2", tScale(barT0 + scaleBarSeconds))
    .attr("y1", 263).attr("y2", 263)
    .attr("stroke", "#000").attr("stroke-width", 3.5);
svg.append("text")
    .attr("x", tScale(barT0 + scaleBarSeconds / 2)).attr("y", 296)
    .attr("text-anchor", "middle").attr("font-size", 30)
    .text("0.3 s");
svg.append("line")
    .attr("x1", 1721).attr("x2", 1721)
    .attr("y1", 283).attr("y2", 283 - (lfpY(0) - lfpY(scaleBarMv)))
    .attr("stroke", ink).attr("stroke-width", 3.5);
svg.append("text")
    .attr("transform", "translate(1749,297) rotate(-90)")
    .attr("font-size", 30)
    .text("1 mV");

svg.append("text").attr("x", 9).attr("y", 34).attr("font-size", 32).attr("font-weight", "bold").text("A");
svg.append("text").attr("x", 9).attr("y", 494).attr("font-size", 32).attr("font-weight", "bold").text("B");
svg.append("text").attr("x", 888).attr("y", 45).attr("text-anchor", "middle").attr("font-size", 30).text("Raw LFP");

const bandTitle = svg.append("text").attr("x", 887).attr("y", 302).attr("text-anchor", "middle").attr("font-size", 30.3);
bandTitle.append("tspan").attr("style", "fill:#e8202a").text("Theta pass");
bandTitle.append("tspan").text("/");
bandTitle.append("tspan").attr("style", "fill:#1fa9e1").text("Gamma pass");

// ---------- panel B
const jet = d3.scaleLinear()
    .domain([0, 1.25, 3.75, 6.25, 8.75, 10])
    .range(["#000080", "#0000ff", "#00ffff", "#ffff00", "#ff0000", "#800000"])
    .clamp(true);

const colX = [139.5, 691.5, 1233];
const rowY = [526, 1051, 1575];
const size = 427;

const xScale = d3.scaleLinear().domain([1, 30]).range([0, size]);
const yScale = d3.scaleLinear().domain([30, 100]).range([size, 0]);

function decode(row) {
  return row.replace(/ /g, "").split("").map(c => c in quarters ? quarters[c] : parseInt(c, 21) / 2);
}

panels.forEach((p, i) => {
  const col = i % 3;
  const row = Math.floor(i / 3);
  const g = svg.append("g")
      .attr("transform", `translate(${colX[col]},${rowY[row]})`);

  g.append("rect").attr("width", size).attr("height", size).attr("fill", "#000080");

  const cells = p.rows.flatMap((r, ri) => decode(r).map((v, ci) => ({ri, ci, v})));

  g.append("g").attr("shape-rendering", "crispEdges")
    .selectAll("rect")
    .data(cells)
    .enter()
    .append("rect")
    .attr("x", d => xScale(phaseEdges[d.ci]))
    .attr("y", d => yScale(ampEdges[d.ri]))
    .attr("width", d => xScale(phaseEdges[d.ci + 1]) - xScale(phaseEdges[d.ci]) + 0.5)
    .attr("height", d => yScale(ampEdges[d.ri + 1]) - yScale(ampEdges[d.ri]) + 0.5)
    .attr("fill", d => jet(d.v));

  g.append("rect").attr("width", size).attr("height", size)
      .attr("fill", "none").attr("stroke", ink).attr("stroke-width", 3.5);
  // the BS map runs over its top edge
  if (p.title === "BS") {
    g.append("line").attr("x2", size).attr("stroke", "#000080").attr("stroke-width", 3.5);
  }

  const xAxis = d3.axisBottom(xScale).tickValues(phaseTicks).tickSize(7).tickPadding(9);
  const yAxis = d3.axisLeft(yScale).tickValues(ampTicks).tickSize(7).tickPadding(5);

  g.append("g").attr("transform", `translate(0,${size})`).call(xAxis)
      .call(a => a.select(".domain").remove())
      .call(a => a.selectAll("line").attr("stroke", ink).attr("stroke-width", 3.5))
      .call(a => a.selectAll("text").attr("font-size", 28).attr("font-family", null));
  g.append("g").call(yAxis)
      .call(a => a.select(".domain").remove())
      .call(a => a.selectAll("line").attr("stroke", ink).attr("stroke-width", 3.5))
      .call(a => a.selectAll("text").attr("font-size", 28).attr("font-family", null));

  g.append("text")
      .attr("x", size / 2).attr("y", -18)
      .attr("text-anchor", "middle").attr("font-size", 30)
      .text(p.title);

  if (col === 0) {
    g.append("text")
        .attr("transform", `translate(-76,${size / 2}) rotate(-90)`)
        .attr("text-anchor", "middle").attr("font-size", 30)
        .text("Frequency for amplitude (Hz)");
  }
  if (row === 2) {
    g.append("text")
        .attr("x", size / 2).attr("y", 498)
        .attr("text-anchor", "middle").attr("font-size", 30.2)
        .text("Frequency for phase (Hz)");
  }

  if (col === 2) {
    const bar = svg.append("g").attr("transform", `translate(1687,${rowY[row]})`);
    const levels = d3.range(64).map(k => (k + 0.5) / 64 * 10);
    const barY = d3.scaleLinear().domain([0, 10]).range([size, 0]);
    bar.selectAll("rect")
      .data(levels)
      .enter()
      .append("rect")
      .attr("width", 22)
      .attr("y", d => barY(d + 5 / 64))
      .attr("height", size / 64 + 0.5)
      .attr("fill", d => jet(d))
      .attr("shape-rendering", "crispEdges");
    bar.append("text").attr("x", 27).attr("y", 10).attr("font-size", 29).text("10");
    bar.append("text").attr("x", 27).attr("y", size + 3).attr("font-size", 29).text("0");
    bar.append("text")
        .attr("transform", `translate(63,${size / 2}) rotate(-90)`)
        .attr("text-anchor", "middle").attr("font-size", 30)
        .text("Modulation index (z-score)");
  }
});
</script>
</body>
</html>
